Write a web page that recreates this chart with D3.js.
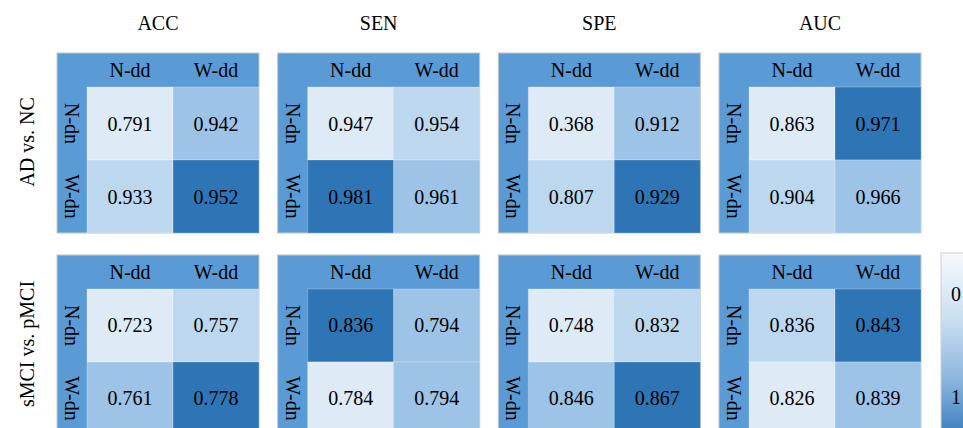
<!DOCTYPE html>
<html>
<head>
<meta charset="utf-8">
<script src="https://cdn.jsdelivr.net/npm/d3@7/dist/d3.min.js"></script>
<style>
  html, body { margin: 0; padding: 0; background: #fff; }
  svg { display: block; }
  text { font-family: "Liberation Serif", "Times New Roman", serif; fill: #000; }
</style>
</head>
<body>
<svg id="chart" width="963" height="428"></svg>
<script>
// ---- data ----
const metrics = ["ACC", "SEN", "SPE", "AUC"];
const tasks = ["AD vs. NC", "sMCI vs. pMCI"];
const colLabels = ["N-dd", "W-dd"];
const rowLabels = ["N-dn", "W-dn"];
// values per metric, order: [N-dn/N-dd, N-dn/W-dd, W-dn/N-dd, W-dn/W-dd]
const adNcValues = [
  [0.791, 0.942, 0.933, 0.952],   // ACC
  [0.947, 0.954, 0.981, 0.961],   // SEN
  [0.368, 0.912, 0.807, 0.929],   // SPE
  [0.863, 0.971, 0.904, 0.966]    // AUC
];
const smciPmciValues = [
  [0.723, 0.757, 0.761, 0.778],   // ACC
  [0.836, 0.794, 0.784, 0.794],   // SEN
  [0.748, 0.832, 0.846, 0.867],   // SPE
  [0.836, 0.843, 0.826, 0.839]    // AUC
];
const colorbarTicks = [0, 1];

// ---- styles ----
const cellColors = ["#deebf7", "#bdd7ee", "#9dc3e6", "#2e75b6"];
const headerColor = "#5b9bd5";

const svg = d3.select("#chart");

const panelX = d3.scaleBand().domain(metrics).range([57, 921]).paddingInner(0.0846);
const panelY = d3.scaleBand().domain(tasks).range([53, 435]).paddingInner(0.1089);
const pw = panelX.bandwidth();
const ph = panelY.bandwidth();
const hdrW = 30, hdrH = 34;
const cx = d3.scaleBand().domain(colLabels).range([hdrW, pw]);
const cy = d3.scaleBand().domain(rowLabels).range([hdrH, ph]);
const rankColor = d3.scaleOrdinal().domain([0, 1, 2, 3]).range(cellColors);

const valueSets = [adNcValues, smciPmciValues];

// titles
svg.selectAll("text.title").data(metrics).join("text")
  .attr("class", "title")
  .attr("x", d => panelX(d) + pw / 2)
  .attr("y", 30)
  .attr("text-anchor", "middle")
  .attr("font-size", 20)
  .text(d => d);

// row (task) labels
svg.selectAll("text.task").data(tasks).join("text")
  .attr("class", "task")
  .attr("transform", d => `translate(34,${panelY(d) + ph / 2 - 1}) rotate(-90)`)
  .attr("text-anchor", "middle")
  .attr("font-size", 20)
  .text(d => d);

tasks.forEach((task, ti) => {
  metrics.forEach((m, mi) => {
    const vals = valueSets[ti][mi];
    const g = svg.append("g").attr("transform", `translate(${panelX(m)},${panelY(task)})`);
    g.append("rect")
      .attr("x", 0).attr("y", 0).attr("width", pw).attr("height", ph)
      .attr("fill", headerColor)
      .attr("stroke", "#c4c4c4").attr("stroke-width", 1);
    const cells = [];
    rowLabels.forEach((r, ri) => colLabels.forEach((c, ci) => {
      const v = vals[ri * 2 + ci];
      const rank = vals.filter(x => x <= v).length - 1;
      cells.push({ r, c, v, rank });
    }));
    g.selectAll("rect.cell").data(cells).join("rect")
      .attr("class", "cell")
      .attr("x", d => cx(d.c)).attr("y", d => cy(d.r))
      .attr("width", cx.bandwidth()).attr("height", cy.bandwidth())
      .attr("fill", d => rankColor(d.rank))
      .attr("stroke", "#ffffff").attr("stroke-opacity", 0.25).attr("stroke-width", 1);
    g.selectAll("text.val").data(cells).join("text")
      .attr("class", "val")
      .attr("x", d => cx(d.c) + cx.bandwidth() / 2)
      .attr("y", d => cy(d.r) + cy.bandwidth() / 2)
      .attr("dy", "0.35em")
      .attr("text-anchor", "middle")
      .attr("font-size", 20)
      .text(d => d3.format(".3f")(d.v));
    g.selectAll("text.col").data(colLabels).join("text")
      .attr("class", "col")
      .attr("x", d => cx(d) + cx.bandwidth() / 2)
      .attr("y", hdrH / 2)
      .attr("dy", "0.35em")
      .attr("text-anchor", "middle")
      .attr("font-size", 20)
      .text(d => d);
    g.selectAll("text.row").data(rowLabels).join("text")
      .attr("class", "row")
      .attr("transform", d => `translate(${hdrW / 2},${cy(d) + cy.bandwidth() / 2}) rotate(90)`)
      .attr("dy", "0.35em")
      .attr("text-anchor", "middle")
      .attr("font-size", 20)
      .text(d => d);
  });
});

// colorbar
const defs = svg.append("defs");
const grad = defs.append("linearGradient").attr("id", "cbar")
  .attr("x1", 0).attr("y1", 0).attr("x2", 0).attr("y2", 1);
grad.append("stop").attr("offset", "0%").attr("stop-color", "#f5f9fd");
grad.append("stop").attr("offset", "35%").attr("stop-color", "#c9def1");
grad.append("stop").attr("offset", "65%").attr("stop-color", "#8fb9e0");
grad.append("stop").attr("offset", "100%").attr("stop-color", "#2e75b6");
const cbTop = 253, cbH = 190;
svg.append("rect")
  .attr("x", 941).attr("y", cbTop).attr("width", 40).attr("height", cbH)
  .attr("fill", "url(#cbar)")
  .attr("stroke", "#d0d0d0").attr("stroke-width", 1);
const cbScale = d3.scaleLinear().domain([0, 1]).range([294, 397]);
svg.selectAll("text.cbt").data(colorbarTicks).join("text")
  .attr("class", "cbt")
  .attr("x", 956)
  .attr("y", d => cbScale(d))
  .attr("dy", "0.35em")
  .attr("text-anchor", "middle")
  .attr("font-size", 20)
  .text(d => d);
</script>
</body>
</html>
